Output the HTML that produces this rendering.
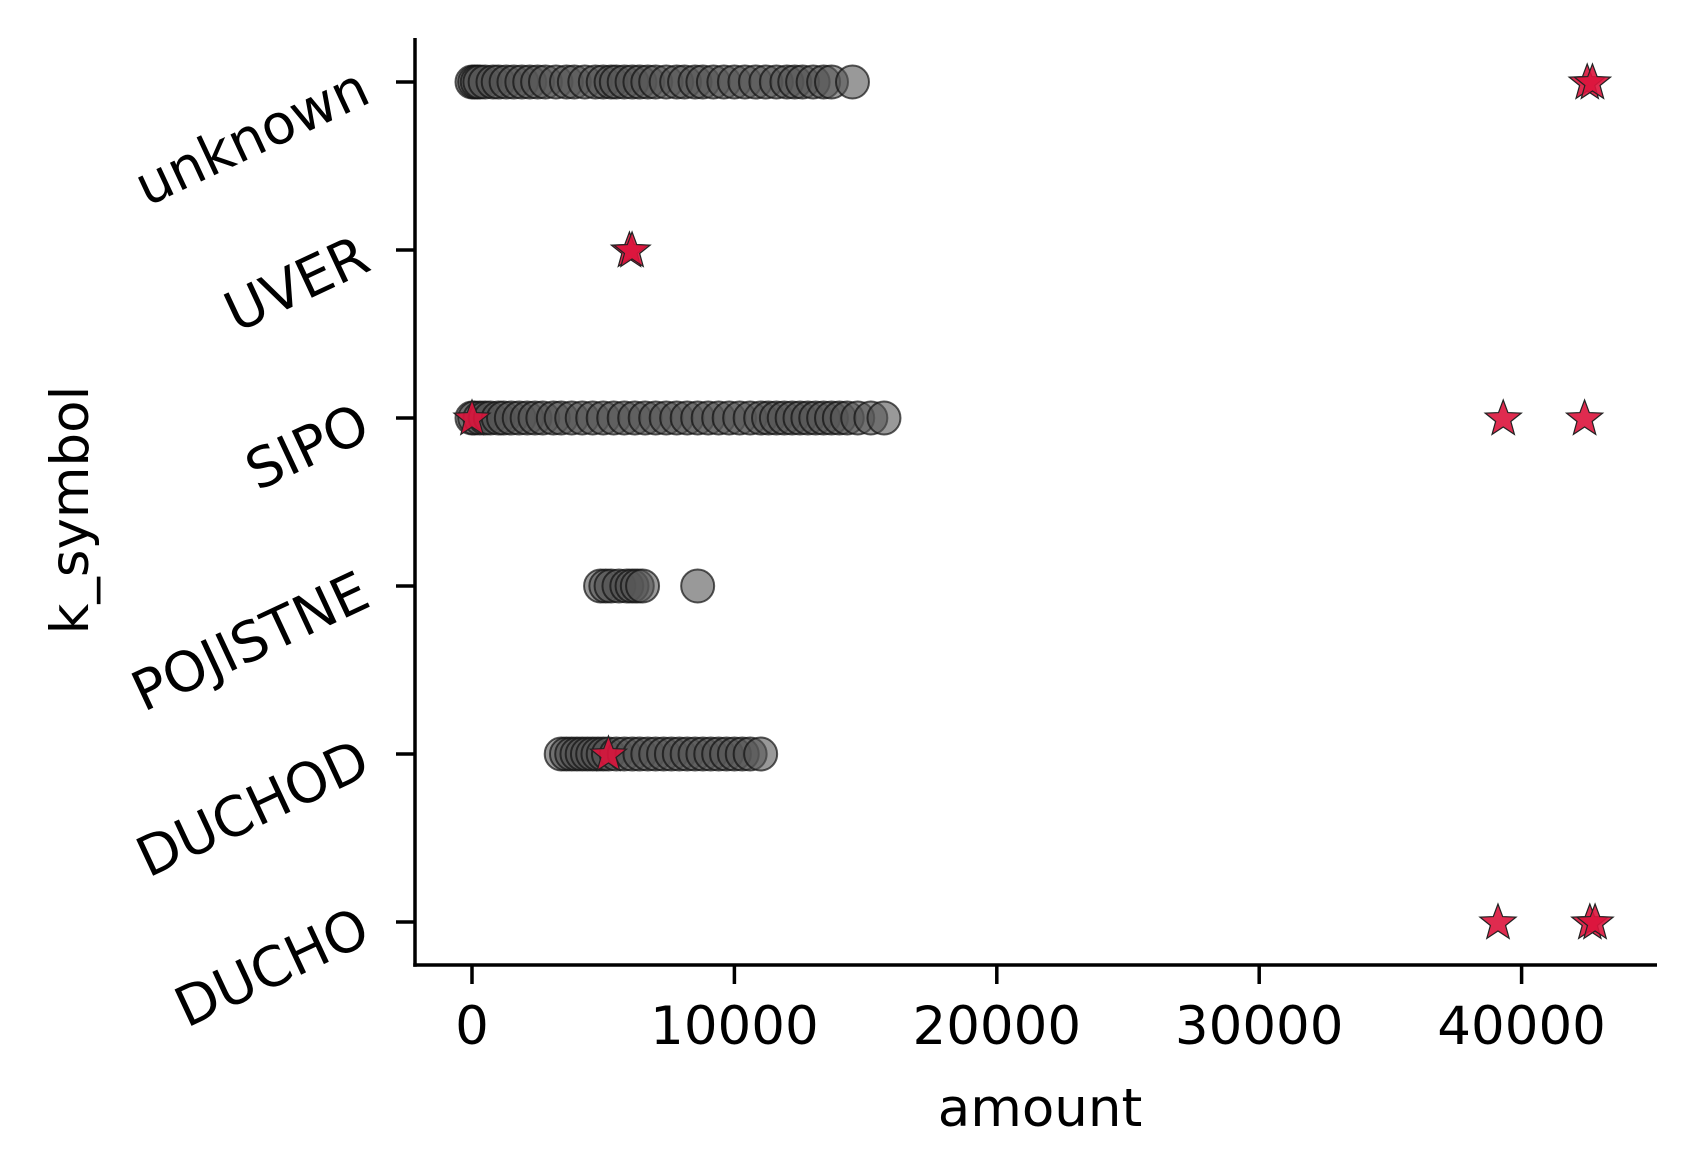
<!DOCTYPE html>
<html><head><meta charset="utf-8"><style>
html,body{margin:0;padding:0;background:#fff;}
svg{display:block;}
text{font-family:"DejaVu Sans","Liberation Sans",sans-serif;fill:#000;}
</style></head><body>
<svg id="chart" width="1695" height="1173" viewBox="0 0 1695 1173" xmlns="http://www.w3.org/2000/svg">
<g id="points"></g>
<g id="axes"></g>
</svg>
<script>
const categories = ["unknown","UVER","SIPO","POJISTNE","DUCHOD","DUCHO"];
const xTicks = [0,10000,20000,30000,40000];
const normalUnknown = [0,100,200,300,500,800,1000,1300,1600,1900,2200,2500,2800,3200,3600,3900,4300,4700,5000,5300,5500,5800,6100,6400,6700,7000,7400,7800,8100,8500,8800,9200,9600,10000,10400,10800,11200,11600,12000,12300,12600,13000,13400,13700,14500];
const normalUVER = [];
const normalSIPO = [0,100,300,500,700,1000,1200,1500,1800,2100,2400,2700,3100,3400,3800,4200,4600,5000,5400,5800,6200,6600,7000,7400,7800,8200,8600,9000,9400,9800,10200,10600,11000,11300,11600,11900,12200,12500,12800,13100,13400,13700,14000,14300,14700,15200,15700];
const normalPOJISTNE = [4900,5100,5300,5600,5900,6100,6300,6500,8600];
const normalDUCHOD = [3400,3600,3800,4000,4200,4400,4600,4800,5000,5200,5500,5800,6100,6400,6700,7000,7300,7600,7900,8200,8500,8800,9100,9400,9700,10000,10300,10600,11000];
const normalDUCHO = [];
const starUnknown = [42500,42700];
const starUVER = [6000,6100];
const starSIPO = [0,39300,42400];
const starPOJISTNE = [];
const starDUCHOD = [5200];
const starDUCHO = [39100,42600,42800];

const normals = [normalUnknown,normalUVER,normalSIPO,normalPOJISTNE,normalDUCHOD,normalDUCHO];
const stars = [starUnknown,starUVER,starSIPO,starPOJISTNE,starDUCHOD,starDUCHO];

const NS = "http://www.w3.org/2000/svg";
const X0 = 472, XPER = 26.24;
function xScale(v){ return X0 + v/1000*XPER; }
function yScale(i){ return 82 + i*168; }
const AX_L = 415, AX_R = 1657, AX_T = 38, AX_B = 965;

function mk(tag, attrs, parent){
  const el = document.createElementNS(NS, tag);
  for (const k in attrs) el.setAttribute(k, attrs[k]);
  parent.appendChild(el);
  return el;
}
const pts = document.getElementById('points');
const axes = document.getElementById('axes');

normals.forEach((arr, ci) => {
  arr.forEach(v => {
    const c = mk('circle', {cx: xScale(v), cy: yScale(ci), r: 16.5, fill: '#555', 'fill-opacity': 0.6, stroke: '#111', 'stroke-opacity': 0.7, 'stroke-width': 2}, pts);
    
    
  });
});
function starPath(cx, cy, R){
  const r = R*0.42; let d = '';
  for (let k=0;k<10;k++){
    const a = -Math.PI/2 + k*Math.PI/5; const rr = k%2===0?R:r;
    d += (k===0?'M':'L') + (cx+rr*Math.cos(a)).toFixed(2) + ',' + (cy+rr*Math.sin(a)).toFixed(2);
  }
  return d + 'Z';
}
stars.forEach((arr, ci) => {
  arr.forEach(v => {
    const s = mk('path', {d: starPath(xScale(v), yScale(ci)+1, 19), fill: '#dc143c', 'fill-opacity': 0.9, stroke: '#222', 'stroke-width': 1.2}, pts);
    
    
  });
});

const yAxis = mk('line', {x1: AX_L, y1: AX_T, x2: AX_L, y2: AX_B+1.75, stroke: '#000', 'stroke-width': 3.5}, axes);


const xAxis = mk('line', {x1: AX_L-1.75, y1: AX_B, x2: AX_R, y2: AX_B, stroke: '#000', 'stroke-width': 3.5}, axes);



xTicks.forEach(v => {
  const x = xScale(v);
  const t = mk('line', {x1: x, y1: AX_B, x2: x, y2: AX_B+19, stroke: '#000', 'stroke-width': 3.5}, axes);
  
  
  const lb = mk('text', {x: x, y: AX_B+79, 'text-anchor': 'middle', 'font-size': 53}, axes);
  lb.textContent = String(v);
  
  
});
categories.forEach((c, i) => {
  const y = yScale(i);
  const t = mk('line', {x1: AX_L-19, y1: y, x2: AX_L, y2: y, stroke: '#000', 'stroke-width': 3.5}, axes);
  
  
  const lb = mk('text', {x: 0, y: 0, 'text-anchor': 'end', 'dominant-baseline': 'central', 'font-size': 55, transform: `translate(${AX_L-50},${y+2}) rotate(-25)`}, axes);
  lb.textContent = c;
  
  
});
const xt = mk('text', {x: 1040, y: 1126, 'text-anchor': 'middle', 'font-size': 53}, axes);
xt.textContent = 'amount';


const yt = mk('text', {x: 0, y: 0, 'text-anchor': 'middle', 'font-size': 53, transform: 'translate(88,510) rotate(-90)'}, axes);
yt.textContent = 'k_symbol';


</script>
</body></html>
